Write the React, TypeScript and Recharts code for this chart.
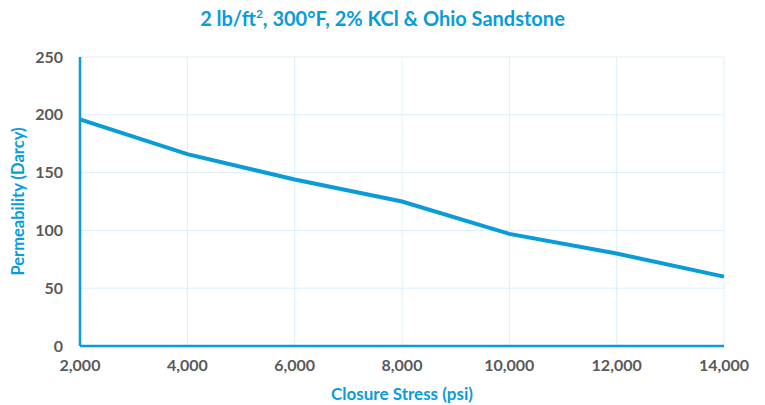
import { LineChart, Line, XAxis, YAxis, CartesianGrid, Label } from "recharts";

const stress = [2000, 4000, 6000, 8000, 10000, 12000, 14000];
const permeability = [196, 166, 144, 125, 97, 80, 60];
const xTicks = [2000, 4000, 6000, 8000, 10000, 12000, 14000];
const yTicks = [0, 50, 100, 150, 200, 250];

const data = stress.map((s, i) => ({ stress: s, perm: permeability[i] }));

const BLUE = "#0A9BD9";
const GRAY = "#595959";
const FONT = "Lato, 'Open Sans', sans-serif";

export default function App() {
    return (
        <div style={{ position: "absolute", left: 0, top: 0, width: 765, height: 405, background: "#fff", fontFamily: FONT }}>
            <div
                style={{
                    position: "absolute",
                    top: 5,
                    left: 0,
                    width: 765,
                    textAlign: "center",
                    color: BLUE,
                    fontWeight: 700,
                    fontSize: 20,
                    lineHeight: "26px",
                }}
            >
                2 lb/ft<sup style={{ fontSize: 12, lineHeight: 0 }}>2</sup>, 300°F, 2% KCl &amp; Ohio Sandstone
            </div>
            <LineChart width={765} height={405} data={data} margin={{ top: 57, right: 41, bottom: 0, left: 0 }}>
                <CartesianGrid stroke="#DCEFFA" strokeWidth={1} />
                <XAxis
                    dataKey="stress"
                    type="number"
                    domain={[2000, 14000]}
                    ticks={xTicks}
                    height={59}
                    tickSize={0}
                    tickMargin={14}
                    axisLine={{ stroke: BLUE, strokeWidth: 2.5 }}
                    tick={{ fill: GRAY, fontSize: 16, fontWeight: 700, fontFamily: FONT }}
                    tickFormatter={(v: number) => v.toLocaleString("en-US")}
                    interval={0}
                >
                    <Label
                        value="Closure Stress (psi)"
                        position="insideBottom"
                        offset={5}
                        style={{ fill: BLUE, fontSize: 17, fontWeight: 700, fontFamily: FONT }}
                    />
                </XAxis>
                <YAxis
                    type="number"
                    domain={[0, 250]}
                    ticks={yTicks}
                    width={80}
                    tickSize={0}
                    tickMargin={17}
                    axisLine={{ stroke: BLUE, strokeWidth: 2.5 }}
                    tick={{ fill: GRAY, fontSize: 16, fontWeight: 700, fontFamily: FONT }}
                    interval={0}
                >
                    <Label
                        value="Permeability (Darcy)"
                        angle={-90}
                        position="center"
                        dx={-22}
                        style={{ fill: BLUE, fontSize: 16.5, fontWeight: 700, fontFamily: FONT, textAnchor: "middle" }}
                    />
                </YAxis>
                <Line
                    type="linear"
                    dataKey="perm"
                    stroke={BLUE}
                    strokeWidth={4}
                    dot={false}
                    activeDot={false}
                    isAnimationActive={false}
                />
            </LineChart>
        </div>
    );
}
